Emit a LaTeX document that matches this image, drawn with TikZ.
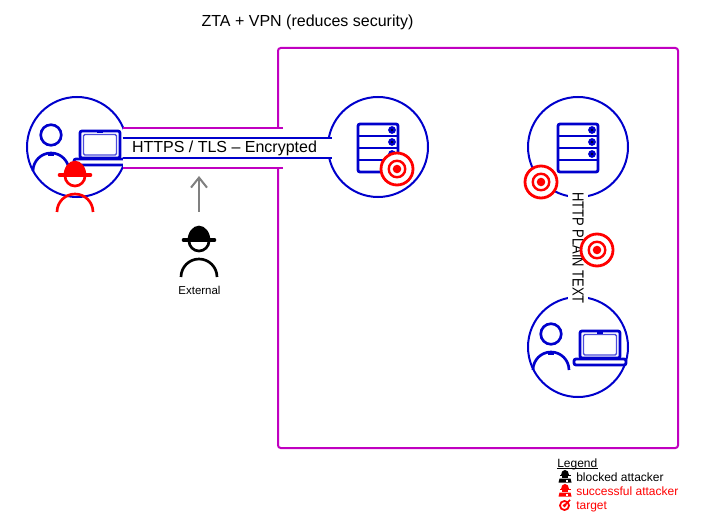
\documentclass[tikz,border=0pt]{standalone}
\usepackage{graphicx}
\usepackage{fontspec}
\setmainfont{Liberation Sans}
\usetikzlibrary{arrows.meta, positioning}
\definecolor{zblue}{HTML}{0000CC}
\definecolor{zmag}{HTML}{C000C0}
\definecolor{zred}{HTML}{FF0000}
\definecolor{zgrey}{HTML}{808080}
\tikzset{
  ring/.style={circle,draw=zblue,line width=1.5pt,minimum size=75pt,inner sep=0pt},
  icon/.style={draw=zblue,line width=2.1pt,rounded corners=1.5pt},
  label/.style={inner sep=0pt,font=\fontsize{#1}{#1}\selectfont},
  legendtext/.style={anchor=base west,inner sep=0pt,font=\fontsize{9}{9}\selectfont},
}
%person in blue, #1 = head centre
\newcommand{\zperson}[2]{
  \draw[zblue,line width=2pt] (#1,#2) circle[radius=7.7pt];
  \draw[zblue,line width=2pt] (#1-18,#2+36) arc[start angle=180,end angle=0,radius=13.5pt];
  \fill[zblue] (#1-3,#2+17) rectangle (#1+3,#2+21);
}
%laptop, #1/#2 = top left of the lid
\newcommand{\zlaptop}[2]{
  \draw[icon] (#1,#2) rectangle (#1+40,#2+27);
  \draw[zblue!70,line width=1pt,rounded corners=1pt] (#1+3.5,#2+3.5) rectangle (#1+36.5,#2+24);
  \fill[zblue] (#1+17,#2) rectangle (#1+23,#2+2.5);
  \draw[icon,fill=white] (#1-6,#2+28) rectangle (#1+46,#2+34);
}
%server rack, #1/#2 = top left
\newcommand{\zserver}[2]{
  \draw[icon] (#1,#2) rectangle (#1+40,#2+48);
  \foreach \r in {12,24,36} {
    \draw[zblue,line width=2.1pt] (#1,#2+\r) -- (#1+40,#2+\r);
  }
  \foreach \r in {6,18,30} {
    \fill[zblue] (#1+34,#2+\r) circle[radius=2.9pt];
    \fill[black] (#1+34,#2+\r) circle[radius=0.8pt];
  }
}
%target, #1/#2 = centre
\newcommand{\ztarget}[2]{
  \draw[zred,line width=2.1pt,fill=white] (#1,#2) circle[radius=12pt];
  \draw[zred,line width=1.8pt] (#1,#2) circle[radius=6.2pt];
  \fill[zred] (#1,#2) circle[radius=3.2pt];
}
%attacker, #1 = colour, #2/#3 = middle of the brim
\newcommand{\zattacker}[3]{
  \draw[#1,line width=2pt,fill=white] (#2,#3+1) circle[radius=7.5pt];
  \fill[#1] (#2-11.5,#3+1) arc[start angle=180,end angle=0,x radius=8.6pt,y radius=11.5pt] -- cycle;
  \draw[#1,line width=3.5pt,line cap=round] (#2-15,#3) -- (#2+15,#3);
  \draw[#1,line width=2pt] (#2-18,#3+37) arc[start angle=180,end angle=0,radius=13.5pt];
}
%tiny attacker for the legend
\newcommand{\zspy}[3]{
  \fill[#1] (#2-4,#3-1) arc[start angle=180,end angle=0,x radius=3pt,y radius=3.8pt] -- cycle;
  \fill[#1] (#2-5.5,#3-1.5) rectangle (#2+5.5,#3-0.2);
  \fill[#1] (#2-3,#3) rectangle (#2+3,#3+2);
  \fill[#1] (#2-6.5,#3+6.5) -- (#2-5.5,#3+2.5) -- (#2+5.5,#3+2.5) -- (#2+6.5,#3+6.5) -- cycle;
  \fill[white] (#2+1,#3+3.5) rectangle (#2+3,#3+5.5);
}
\begin{document}
\begin{tikzpicture}[x=0.75pt,y=-0.75pt]
\useasboundingbox (0,0) rectangle (720,520);
%title
\node[label=12] (title) at (307.5,22) {ZTA + VPN (reduces security)};
%network frame
\draw[zmag,line width=1.5pt,rounded corners=2pt] (278,48) rectangle (678,448);
%circles
\node[ring] (client) at (77,147) {};
\node[ring] (gateway) at (378,147) {};
\node[ring] (app) at (578,147) {};
\node[ring] (device) at (578,347) {};
%client icons
\zperson{51}{135}
\zlaptop{80}{131}
\zperson{551}{334}
\zlaptop{580}{331}
%server icons
\zserver{358}{124}
\zserver{558}{124}
%tunnel
\node[minimum width=120pt,minimum height=30pt,inner sep=0pt,fill=white] (outer) at (203,148) {};
\draw[zmag,line width=1.5pt] (outer.north west) -- (outer.north east);
\draw[zmag,line width=1.5pt] (outer.south west) -- (outer.south east);
\node[minimum width=156.75pt,minimum height=15pt,inner sep=0pt,fill=white] (tunnel) at (227.5,148) {};
\draw[zblue,line width=1.5pt] (tunnel.north west) -- (tunnel.north east);
\draw[zblue,line width=1.5pt] (tunnel.south west) -- (tunnel.south east);
\node[label=12,right=9 of tunnel.west] (tls) {HTTPS / TLS -- Encrypted};
%plain text link
\node[label=12,rotate=-90,fill=white,minimum height=15pt] (plain) at (578,248) {\scalebox{0.81}[1]{HTTP PLAIN TEXT}};
%targets
\ztarget{397}{169}
\ztarget{541}{182}
\ztarget{597}{250}
%attackers
\zattacker{zred}{75}{175}
\zattacker{black}{199}{240}
\node[label=8.6] (external) at (199.5,290) {External};
\coordinate (from) at (199,212);
\coordinate (to) at (199,176);
\draw[zgrey,line width=1.5pt,-{Straight Barb[length=7.5pt,width=12pt]}] (from) -- (to);
%legend
\node[legendtext] (legend) at (557,467) {Legend};
\draw[black,line width=0.6pt] ([yshift=-0.9pt]legend.base west) -- ([yshift=-0.9pt]legend.base east);
\zspy{black}{565}{476}
\node[legendtext] (blocked) at (576,481) {blocked attacker};
\zspy{zred}{565}{490}
\node[legendtext,text=zred] (success) at (576,495) {successful attacker};
\draw[zred,line width=1.3pt] (564.5,505.5) circle[radius=3.4pt];
\fill[zred] (564.5,505.5) circle[radius=1.4pt];
\draw[zred,line width=1.2pt] (564.5,505.5) -- (570,500);
\node[legendtext,text=zred] (target) at (576,509) {target};
\end{tikzpicture}
\end{document}
